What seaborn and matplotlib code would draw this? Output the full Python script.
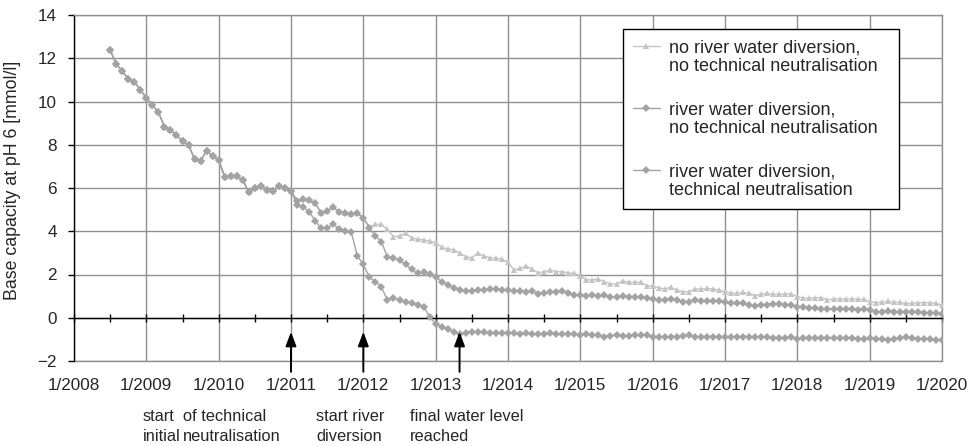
import numpy as np
import pandas as pd
import matplotlib
matplotlib.use("Agg")
import matplotlib.pyplot as plt
from matplotlib.legend_handler import HandlerLine2D
import seaborn as sns

# ---------------- data (monthly, Jul 2008 .. Jan 2020) ----------------
start_year = 2008.5  # July 2008

# shared by all three scenarios, Jul 2008 - Dec 2010
common_2008_2010 = [12.38, 11.73, 11.41, 11.04, 10.92, 10.53,
                    10.18, 9.84, 9.50, 8.84, 8.68, 8.45, 8.17, 7.99, 7.33, 7.25, 7.73, 7.48,
                    7.30, 6.51, 6.55, 6.55, 6.37, 5.80, 5.99, 6.09, 5.91, 5.86, 6.09, 5.99]

# shared by both "no technical neutralisation" scenarios, Jan 2011 - Jan 2012
no_neut_2011 = [5.88, 5.40, 5.48, 5.45, 5.29, 4.86, 4.95, 5.11, 4.91, 4.83, 4.78, 4.83, 4.63]

# no river water diversion, no technical neutralisation, Feb 2012 - Jan 2020
no_div_no_neut_2012_2020 = [4.20, 4.32, 4.32, 4.09, 3.75, 3.78, 3.90, 3.70, 3.63, 3.60, 3.55,
                            3.47, 3.26, 3.18, 3.15, 2.98, 2.82, 2.77, 2.98, 2.86, 2.77, 2.74, 2.71,
                            2.56, 2.21, 2.28, 2.39, 2.24, 2.08, 2.13, 2.21, 2.13, 2.13, 2.08, 2.05,
                            1.93, 1.75, 1.75, 1.79, 1.66, 1.56, 1.56, 1.70, 1.64, 1.64, 1.64, 1.47,
                            1.47, 1.39, 1.33, 1.41, 1.28, 1.20, 1.20, 1.33, 1.33, 1.36, 1.33, 1.28,
                            1.20, 1.13, 1.13, 1.17, 1.13, 1.02, 1.10, 1.13, 1.08, 1.08, 1.10, 1.10,
                            0.98, 0.90, 0.90, 0.93, 0.93, 0.82, 0.87, 0.87, 0.87, 0.87, 0.85, 0.85,
                            0.74, 0.70, 0.71, 0.77, 0.71, 0.71, 0.66, 0.66, 0.70, 0.70, 0.70, 0.66,
                            0.59]

# river water diversion, no technical neutralisation, Feb 2012 - Jan 2020
div_no_neut_2012_2020 = [4.16, 3.78, 3.52, 2.80, 2.75, 2.67, 2.47, 2.25, 2.05, 2.10, 2.02,
                         1.90, 1.67, 1.52, 1.39, 1.28, 1.24, 1.25, 1.28, 1.28, 1.31, 1.33, 1.28,
                         1.28, 1.24, 1.24, 1.20, 1.25, 1.10, 1.16, 1.20, 1.20, 1.24, 1.13, 1.05,
                         1.05, 1.00, 1.05, 1.02, 1.03, 0.94, 0.94, 1.00, 0.97, 0.94, 0.94, 0.90,
                         0.87, 0.82, 0.82, 0.87, 0.82, 0.74, 0.74, 0.82, 0.77, 0.77, 0.77, 0.77,
                         0.71, 0.66, 0.66, 0.66, 0.61, 0.55, 0.58, 0.61, 0.64, 0.64, 0.59, 0.59,
                         0.51, 0.51, 0.46, 0.43, 0.40, 0.40, 0.40, 0.40, 0.40, 0.40, 0.38, 0.40,
                         0.38, 0.28, 0.28, 0.32, 0.28, 0.28, 0.28, 0.25, 0.25, 0.23, 0.23, 0.20,
                         0.17]

# river water diversion, technical neutralisation, Jan 2011 - Jan 2020
div_neut_2011_2020 = [5.88, 5.21, 5.11, 4.91, 4.49, 4.13, 4.13, 4.34, 4.09, 4.01, 3.95, 2.86,
                      2.47, 1.87, 1.67, 1.41, 0.82, 0.90, 0.82, 0.74, 0.70, 0.59, 0.51, 0.05,
                      -0.29, -0.41, -0.53, -0.67, -0.75, -0.69, -0.66, -0.67, -0.68, -0.70, -0.70, -0.72,
                      -0.72, -0.72, -0.74, -0.72, -0.74, -0.76, -0.74, -0.72, -0.74, -0.76, -0.74, -0.76,
                      -0.78, -0.76, -0.78, -0.80, -0.87, -0.83, -0.80, -0.83, -0.83, -0.80, -0.80, -0.80,
                      -0.87, -0.87, -0.90, -0.87, -0.87, -0.84, -0.80, -0.91, -0.87, -0.87, -0.87, -0.87,
                      -0.91, -0.91, -0.87, -0.87, -0.87, -0.90, -0.87, -0.91, -0.92, -0.92, -0.92, -0.90,
                      -0.97, -0.94, -0.94, -0.94, -0.92, -0.92, -0.92, -0.92, -0.94, -0.94, -0.97, -0.97,
                      -0.94, -0.97, -0.97, -1.02, -0.97, -0.92, -0.90, -0.94, -0.99, -0.99, -0.99, -1.02,
                      -1.02]

series_labels = ["no river water diversion,\nno technical neutralisation",
                 "river water diversion,\nno technical neutralisation",
                 "river water diversion,\ntechnical neutralisation"]

year_ticks = list(range(2008, 2021))
year_labels = [f"1/{y}" for y in year_ticks]

event_dates = [2011.0, 2012.0, 2013.33]
event_texts = [(143, ["start", "initial"]), (183, ["of technical", "neutralisation"]),
               (316, ["start river", "diversion"]), (410, ["final water level", "reached"])]

# ---------------- assemble ----------------
s1 = common_2008_2010 + no_neut_2011 + no_div_no_neut_2012_2020
s2 = common_2008_2010 + no_neut_2011 + div_no_neut_2012_2020
s3 = common_2008_2010 + div_neut_2011_2020
frames = []
for lab, vals in zip(series_labels, [s1, s2, s3]):
    t = start_year + np.arange(len(vals)) / 12.0
    frames.append(pd.DataFrame({"t": t, "value": vals, "series": lab}))
df = pd.concat(frames, ignore_index=True)

# ---------------- style ----------------
sns.set_theme(style="white")
plt.rcParams["font.family"] = ["Liberation Sans", "DejaVu Sans"]
FS = 12.3
FS_LEG = 13.0
FS_NOTE = 11.8
grid_c = "#8f8f8f"

fig = plt.figure(figsize=(9.76, 4.46), dpi=100)
ax = fig.add_axes([74 / 976, 1 - 361 / 446, 868 / 976, 346 / 446])

styles = [
    dict(color="#c4c4c4", marker="^", markersize=5.0),
    dict(color="#a3a3a3", marker="D", markersize=3.6),
    dict(color="#a3a3a3", marker="D", markersize=3.6),
]
for lab, st in zip(series_labels, styles):
    sub = df[df["series"] == lab]
    sns.lineplot(data=sub, x="t", y="value", ax=ax, color=st["color"], marker=st["marker"],
                 markersize=st["markersize"], markeredgewidth=0, linewidth=1.0,
                 label=lab, legend=False, zorder=3)

ax.set_xlim(2008, 2020)
ax.set_ylim(-2, 14)
ax.set_yticks(range(-2, 15, 2))
ax.set_xticks(year_ticks)
ax.set_xticks(np.arange(2008.5, 2020, 1.0), minor=True)
ax.grid(True, which="major", color=grid_c, linewidth=1.0, zorder=0)
ax.set_axisbelow(True)

# x axis line at y = 0 with crossing ticks, labels on a secondary axis at the bottom
ax.spines["bottom"].set_position(("data", 0))
ax.spines["bottom"].set_color("black")
ax.spines["bottom"].set_linewidth(1.0)
ax.spines["bottom"].set_zorder(2.5)
ax.tick_params(axis="x", which="both", direction="inout", length=6, width=1,
               color="black", labelbottom=False, bottom=True)
ax.spines["left"].set_color("black")
ax.spines["left"].set_linewidth(1.0)
ax.tick_params(axis="y", direction="out", length=4, width=1, color="black",
               labelsize=FS, pad=8.5, left=True)
for s in ("top", "right"):
    ax.spines[s].set_color(grid_c)
    ax.spines[s].set_linewidth(1.0)
ax.axhline(-2, color=grid_c, linewidth=1.0, clip_on=False, zorder=1)

sec = ax.secondary_xaxis(0)
sec.set_xticks(year_ticks)
sec.set_xticklabels(year_labels)
sec.tick_params(axis="x", length=0, pad=12, labelsize=FS)
sec.spines["bottom"].set_visible(False)

ax.set_xlabel("")
ax.set_ylabel("Base capacity at pH 6 [mmol/l]", fontsize=12.8)
ax.yaxis.set_label_coords(-0.061, 0.523)


class TopHandler(HandlerLine2D):
    def create_artists(self, legend, orig_handle, xdescent, ydescent, width, height,
                       fontsize, trans):
        arts = super().create_artists(legend, orig_handle, xdescent, ydescent, width,
                                      height, fontsize, trans)
        for a in arts:
            a.set_ydata(np.asarray(a.get_ydata(), dtype=float) + 0.62 * fontsize)
        return arts


handles = ax.get_lines()[:3]
leg = ax.legend(handles, series_labels, loc="upper left",
                bbox_to_anchor=(0.632, 0.9587, 0.3183, 0.0), mode="expand",
                fontsize=FS_LEG, frameon=True, fancybox=False, framealpha=1,
                edgecolor="black", borderpad=0.55, labelspacing=1.45,
                handlelength=1.55, handletextpad=0.45, borderaxespad=0,
                handler_map={h: TopHandler() for h in handles})
leg.get_frame().set_linewidth(1.0)
leg.set_zorder(5)
for t in leg.get_texts():
    t.set_linespacing(1.15)

# event arrows
for d in event_dates:
    ax.annotate("", xy=(d, -0.65), xytext=(d, -2.5), annotation_clip=False,
                arrowprops=dict(arrowstyle="-|>,head_length=0.85,head_width=0.32",
                                color="black", lw=1.4, shrinkA=0, shrinkB=0,
                                mutation_scale=10))

# event descriptions under the axis
for xpx, lines in event_texts:
    for i, line in enumerate(lines):
        ypx = 416.7 + 20 * i
        fig.text(xpx / 976, 1 - ypx / 446, line, fontsize=FS_NOTE, ha="left", va="center")

fig.savefig("out.png", dpi=100)
